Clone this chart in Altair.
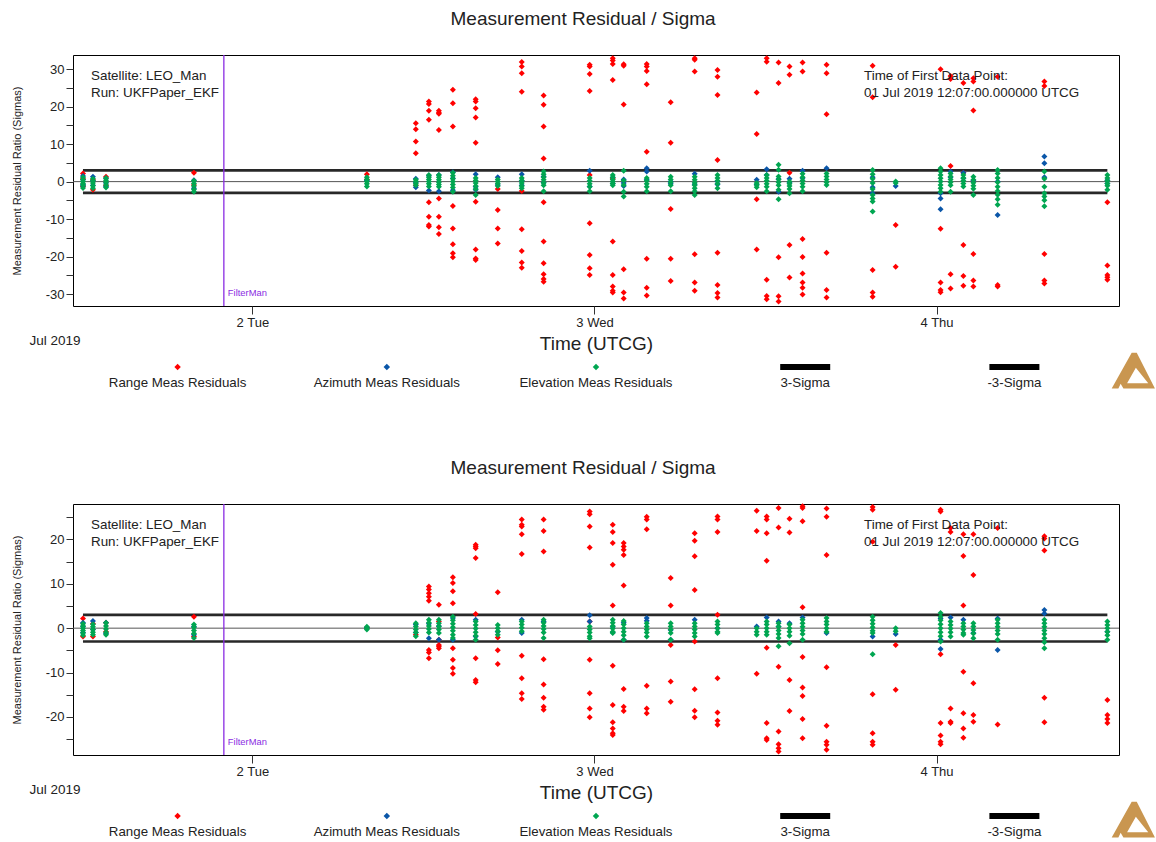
import altair as alt
import pandas as pd

FONT = "Liberation Sans"
TEXT_COLOR = "#222222"
TITLE = "Measurement Residual / Sigma"

SERIES = ["Range Meas Residuals", "Azimuth Meas Residuals", "Elevation Meas Residuals"]
SERIES_COLORS = ["#ff0000", "#0a56a8", "#00a651"]
LEGEND_ENTRIES = SERIES + ["3-Sigma", "-3-Sigma"]

# Start time of each tracking pass (UTC)
PASS_TIMES = [
    "2019-07-01T12:07", "2019-07-01T12:49", "2019-07-01T13:44", "2019-07-01T19:54",
    "2019-07-02T08:02", "2019-07-02T11:28", "2019-07-02T12:23", "2019-07-02T13:05",
    "2019-07-02T14:04", "2019-07-02T15:40", "2019-07-02T17:13", "2019-07-02T18:54",
    "2019-07-02T20:26", "2019-07-02T23:40", "2019-07-03T01:17", "2019-07-03T02:03",
    "2019-07-03T03:40", "2019-07-03T05:21", "2019-07-03T07:02", "2019-07-03T08:38",
    "2019-07-03T11:23", "2019-07-03T12:05", "2019-07-03T12:55", "2019-07-03T13:41",
    "2019-07-03T14:36", "2019-07-03T16:17", "2019-07-03T19:31", "2019-07-03T21:08",
    "2019-07-04T00:17", "2019-07-04T00:59", "2019-07-04T01:53", "2019-07-04T02:35",
    "2019-07-04T04:17", "2019-07-04T07:34", "2019-07-04T11:59",
]

# ---- upper run: residual / sigma per pass ----
TOP_RANGE = [
    [2.2, -1.3, 0.8], [-2.2, 0.5], [1.3, -1.0], [2.4, -0.9], [2.0, 0.6],
    [15.6, 14.0, 10.7, 7.6, -1.0],
    [21.4, 20.7, 18.9, 16.5, -5.5, -9.4, -11.6, -12.0],
    [18.9, 18.4, 18.1, 13.8, -4.5, -9.4, -12.2, -14.0],
    [24.5, 20.9, 14.7, -6.5, -12.5, -16.7, -19.1, -20.2],
    [22.0, 21.4, 19.6, 17.1, 10.4, -5.4, -18.1, -20.5, -20.9],
    [-2.0, -7.6, -12.5, -16.5],
    [31.9, 30.7, 28.9, 24.0, -2.5, -12.7, -18.5, -21.6, -23.0],
    [23.0, 20.5, 14.7, 6.2, -5.5, -16.0, -21.8, -24.7, -26.0, -26.7],
    [31.2, 30.7, 28.7, 24.2, 1.8, -11.1, -19.6, -23.1, -24.9],
    [32.9, 32.3, 31.4, 27.1, 0.8, -16.0, -24.9, -28.0, -29.1, -29.6],
    [31.3, 30.9, 20.6, -23.4, -29.6, -31.2],
    [31.4, 30.7, 29.5, 26.0, 8.0, -20.6, -28.3, -30.4],
    [21.2, 10.4, -7.3, -20.6, -26.5],
    [32.9, 32.5, 29.4, -19.4, -26.9, -29.1],
    [29.8, 28.0, 23.1, 5.8, -19.0, -27.6, -29.7, -30.9],
    [23.8, 12.7, -4.7, -18.1],
    [32.9, 32.0, -26.2, -30.5, -31.4],
    [31.8, 26.3, -20.2, -30.6, -32.0],
    [30.7, 28.5, 2.4, -16.9, -25.6],
    [31.8, 29.4, -15.3, -20.1, -24.5, -26.9, -28.3, -30.1],
    [31.2, 28.9, 18.0, -19.0, -28.9, -30.9],
    [30.9, 22.5, -23.6, -29.6, -30.7],
    [-11.6, -22.7],
    [30.0, -12.6, -26.9, -28.9, -29.5],
    [28.2, 27.4, 4.2, -24.7, -28.5],
    [26.3, 2.4, -16.9, -25.2, -27.8],
    [27.6, 26.7, 19.0, -19.3, -26.4, -28.0],
    [28.0, -27.6, -28.0],
    [26.7, 25.5, -19.3, -26.4, -27.2],
    [-5.5, -22.4, -24.9, -25.5, -26.2],
]
TOP_AZIMUTH = [
    [1.5, 0.5, -0.8, -1.2], [1.3, 0.2, -1.0], [0.9, -0.4, -1.3], [0.4, -1.8], [0.3],
    [0.8, -0.2, -1.5], [1.6, -2.4], [1.8, -2.6], [2.5, 0.9, -2.3], [2.0, -1.4, -2.2],
    [1.2, -0.9], [2.0, 0.2, -1.0], [1.4, -0.3], [2.9, -1.3], [1.1, -0.5],
    [0.6, -0.4, -1.2], [3.6, 2.7, 0.5], [0.0, -0.6], [2.1, -0.7], [0.0, -0.8],
    [0.5, -0.8], [3.3, 1.8], [0.7, -2.7], [0.8, -0.3], [2.9, 1.0],
    [3.6], [1.2, -1.5, -3.1], [-1.2], [-3.1, -4.5, -7.4], [2.7, 1.2],
    [2.4, 0.9], [0.3], [0.0, -8.9], [6.7, 4.9, 1.2], [-0.5, 0.4],
]
TOP_ELEVATION = [
    [1.2, 0.6, 0.0, -0.5, -1.0, -1.7], [0.8, 0.2, -0.4, -1.1, -1.8],
    [1.0, 0.4, -0.2, -0.9, -1.6], [0.2, -0.5, -1.2, -2.1, -2.7],
    [1.2, 0.6, 0.0, -0.6, -1.3], [0.5, 0.0, -0.5, -1.0],
    [1.8, 1.2, 0.6, 0.0, -0.6, -1.3], [1.8, 1.2, 0.5, -0.2, -0.8, -1.4],
    [2.4, 1.6, 0.8, 0.0, -0.8, -1.6, -2.7], [1.0, 0.3, -0.4, -1.2, -2.0, -3.6],
    [0.6, 0.0, -0.5, -1.2], [1.0, 0.3, -0.4, -1.2, -1.8],
    [2.7, 2.0, 1.2, 0.5, -0.3, -1.0, -2.6], [1.0, 0.2, -0.6, -1.4, -2.6],
    [1.8, 1.2, 0.6, 0.0, -0.5, -1.0], [2.9, 0.3, -0.9, -2.7, -4.0],
    [1.0, 0.2, -0.6, -1.4, -2.6], [1.3, 0.6, -0.2, -1.0, -2.6],
    [1.3, 0.5, -0.3, -1.0, -1.8, -2.6, -3.6], [1.8, 1.0, 0.2, -0.6, -1.8],
    [-0.4, -0.9, -1.5], [1.8, 1.0, 0.2, -0.6, -1.4, -2.6],
    [4.5, 3.2, 1.4, 0.6, -0.2, -1.0, -2.2, -4.7], [0.0, -0.6, -1.2, -2.0, -3.1],
    [2.1, 1.2, 0.3, -0.5, -1.4, -2.6], [2.2, 1.4, 0.6, -0.2, -0.9],
    [3.1, 2.0, 0.8, -0.4, -2.0, -3.6, -4.5, -5.3, -8.0], [0.0, -0.4],
    [3.6, 2.7, 1.8, 0.9, 0.0, -0.9, -1.8, -2.7], [2.2, 1.4, 0.6, -0.2, -1.0, -2.7],
    [1.8, 1.0, 0.2, -0.5, -1.3], [1.3, 0.5, -0.3, -1.1, -1.9, -3.6],
    [3.1, 2.2, 1.0, -0.2, -1.4, -2.5, -3.5, -4.7, -6.2],
    [2.7, 0.8, -1.4, -3.1, -4.0, -5.0, -6.6], [1.8, 1.0, 0.2, -0.5, -1.1, -2.2],
]

# ---- lower run: residual / sigma per pass ----
BOTTOM_RANGE = [
    [2.2, -1.9], [-1.9, 1.0], [1.2, -0.8], [2.6, -1.9], [0.1], [-1.5],
    [9.4, 8.7, 7.9, 7.1, 6.2, -4.9, -5.5, -6.8],
    [5.3, 1.5, -2.6, -3.8, -4.1, -4.5],
    [11.5, 10.2, 8.3, 5.6, -4.5, -7.1, -9.0, -10.3],
    [18.8, 18.4, 18.0, 15.8, 3.2, -6.8, -11.7, -12.2],
    [8.1, -2.1, -5.0, -8.1],
    [24.5, 23.3, 22.9, 21.2, 16.7, -6.2, -11.3, -14.7, -16.0],
    [24.5, 21.9, 17.3, -7.0, -12.7, -15.7, -17.7, -18.4],
    [26.3, 25.7, 22.9, 18.2, 1.5, -7.1, -14.7, -18.1, -20.1],
    [23.3, 21.7, 19.2, 14.3, 5.1, -8.5, -17.3, -21.2, -22.6, -23.7, -24.1],
    [19.2, 18.4, 17.7, 16.5, 9.6, -13.7, -17.7, -18.7],
    [25.1, 24.5, 22.3, -13.0, -18.1, -19.2],
    [11.3, 5.1, -3.8, -12.0, -16.6],
    [21.4, 19.7, 16.2, 8.6, -3.0, -13.8, -18.6, -20.1],
    [25.2, 24.5, 21.7, 3.0, -11.3, -19.0, -20.9, -21.8],
    [26.5, 21.9, -10.3],
    [25.2, 24.5, 21.4, 15.2, -4.4, -21.4, -24.8, -25.2],
    [27.1, 22.7, -8.7, -23.3, -26.2, -27.1, -27.8],
    [24.7, 21.6, -11.7, -18.7],
    [27.5, 27.1, 24.1, 4.7, -6.5, -13.4, -15.3, -20.5, -24.8],
    [27.0, 25.1, 16.5, -8.8, -22.0, -25.6, -26.3, -27.4],
    [27.3, 26.7, 19.5, -14.9, -23.7, -25.6, -26.3],
    [-3.8, -13.9],
    [26.7, 26.3, -5.9, -21.4, -24.2, -25.6, -26.2],
    [22.6, 21.7, -18.1, -21.1, -21.4],
    [21.2, 16.3, 5.1, -9.8, -19.2, -22.6, -24.7],
    [21.2, 12.0, -12.4, -19.6, -21.1],
    [22.6, -21.7],
    [20.7, 20.2, 17.5, -15.7, -21.2],
    [-16.2, -19.6, -20.5, -21.4],
]
BOTTOM_AZIMUTH = [
    [1.2, 0.4, -1.0], [1.6, -0.3], [1.2, -1.2], [0.4, -1.5], [0.1],
    [0.8, -1.0], [1.0, -2.3], [0.5, -2.6], [2.3, -2.6], [1.9, -1.9],
    [-0.8], [1.9, -1.1], [1.5], [2.9, 1.5], [0.3, -1.0],
    [1.2, -2.6], [2.3, 1.7], [-0.4, -2.6], [1.9], [0.0],
    [0.4], [2.4], [1.5, 0.4], [1.1], [2.4],
    [-1.1], [-1.9], [-1.3], [2.2, -2.6, -4.7], [2.4],
    [1.9], [-1.1], [2.2, -4.9], [4.1, 3.3], [-0.8],
]
BOTTOM_ELEVATION = [
    [1.0, 0.5, 0.0, -0.5, -1.1, -1.6], [0.9, 0.3, -0.3, -0.9, -1.5],
    [1.2, 0.5, -0.2, -0.9, -1.5], [0.8, 0.2, -0.5, -1.2, -2.2],
    [0.3, 0.0, -0.3], [1.1, 0.4, -0.3, -1.0, -1.8],
    [1.9, 1.2, 0.5, -0.2, -1.0], [1.9, 1.1, 0.4, -0.3, -1.1],
    [2.6, 1.8, 1.0, 0.2, -0.6, -1.5, -2.2], [1.5, 0.7, -0.1, -0.9, -1.7, -2.6],
    [0.7, 0.0, -0.7, -1.5], [1.5, 0.8, 0.1, -0.7],
    [1.9, 1.2, 0.5, -0.2, -1.0, -2.2], [0.4, -0.3, -1.0, -1.8, -2.3],
    [1.9, 1.2, 0.5, -0.1, -0.8, -1.1], [1.6, 0.8, 0.0, -0.8, -1.6, -2.6],
    [1.1, 0.4, -0.3, -1.0, -1.9], [1.1, 0.4, -0.3, -1.1, -2.6],
    [1.1, 0.4, -0.3, -1.1, -1.9], [1.5, 0.8, 0.0, -0.8, -1.1],
    [0.0, -0.8, -1.5], [1.5, 0.8, 0.0, -0.8, -1.5],
    [1.1, 0.3, -0.5, -1.3, -2.2, -4.1], [0.8, 0.0, -0.8, -1.7, -3.4],
    [1.9, 1.1, 0.3, -0.5, -1.3, -2.6], [2.3, 1.5, 0.8, 0.0, -0.8],
    [2.6, 1.8, 1.0, 0.2, -0.6, -1.1, -5.9], [0.0, -0.7],
    [3.4, 2.6, 1.8, 0.9, 0.0, -0.9, -1.8, -3.0], [1.5, 0.7, -0.1, -0.9, -1.9],
    [1.1, 0.4, -0.3, -1.1, -1.5], [1.1, 0.4, -0.4, -1.2, -2.3],
    [1.9, 1.1, 0.3, -0.5, -1.3, -2.6], [1.9, 1.1, 0.3, -0.5, -1.3, -2.3, -3.2, -4.5],
    [1.5, 0.7, 0.0, -0.8, -1.6, -2.6],
]

TOP_Y_DOMAIN = [-33.2, 33.8]
TOP_Y_TICKS = list(range(-30, 31, 5))
BOTTOM_Y_DOMAIN = [-28.6, 28.0]
BOTTOM_Y_TICKS = list(range(-25, 26, 5))

SIGMA_LEVELS = [3, -3]
FIRST_POINT = "2019-07-01T12:07"
LAST_POINT = "2019-07-04T11:59"
FILTER_MAN_TIME = "2019-07-01T22:00"
INFO_LEFT = ["Satellite: LEO_Man", "Run: UKFPaper_EKF"]
INFO_RIGHT = ["Time of First Data Point:", "01 Jul 2019 12:07:00.000000 UTCG"]

W, H = 1046, 251

# Vega symbol paths in the unit square [-1, 1]
BAR_PATH = "M-1,-0.12L1,-0.12L1,0.12L-1,0.12Z"
LOGO_PATH = ("M-0.97,0.8L-0.1,-0.75L0.12,-0.75L0.91,0.8L-0.46,0.8L-0.58,0.6L-0.68,0.8Z"
             "M0.08,-0.1L-0.3,0.58L0.62,0.58Z")


def utc(ts):
    return ts + ":00Z"


def residual_table(range_vals, az_vals, el_vals):
    rows = []
    for name, passes in zip(SERIES, (range_vals, az_vals, el_vals)):
        for t, vals in zip(PASS_TIMES, passes):
            for v in vals:
                rows.append({"time": utc(t), "value": v, "series": name})
    return pd.DataFrame(rows)


X_TITLE = "Time (UTCG)"
Y_TITLE = "Measurement Residual Ratio (Sigmas)"


def panel(range_vals, az_vals, el_vals, y_domain, y_ticks):
    x_scale = alt.Scale(
        type="utc", nice=False,
        domain=[alt.DateTime(year=2019, month=7, date=1, hours=11, minutes=25, utc=True),
                alt.DateTime(year=2019, month=7, date=4, hours=12, minutes=48, utc=True)],
    )
    y_scale = alt.Scale(domain=y_domain, nice=False, zero=False)
    x_axis = alt.Axis(
        values=[alt.DateTime(year=2019, month=7, date=d, utc=True) for d in (2, 3, 4)],
        format="%-d %a", grid=False, domain=False,
        tickSize=8, tickColor="#333333", labelPadding=2,
        labelFont=FONT, labelFontSize=13, labelColor=TEXT_COLOR,
        titleFont=FONT, titleFontSize=19, titleFontWeight="normal", titleColor=TEXT_COLOR,
        titlePadding=5,
    )
    # every 5 sigmas gets a tick, every 10 a label
    y_axis = alt.Axis(
        values=y_ticks, tickCount=40,
        labelExpr="datum.value % 10 == 0 ? '' + datum.value : ''",
        labelOverlap=False,
        grid=False, domain=False, tickSize=7, tickColor="#333333", labelPadding=2,
        labelFont=FONT, labelFontSize=13, labelColor=TEXT_COLOR,
        titleFont=FONT, titleFontSize=11, titleFontWeight="normal", titleColor=TEXT_COLOR,
        titlePadding=23,
    )

    points = alt.Chart(residual_table(range_vals, az_vals, el_vals)).mark_point(
        shape="diamond", filled=True, size=36, opacity=1
    ).encode(
        x=alt.X("time:T", scale=x_scale, axis=x_axis, title=X_TITLE),
        y=alt.Y("value:Q", scale=y_scale, axis=y_axis, title=Y_TITLE),
        color=alt.Color("series:N", scale=alt.Scale(domain=SERIES, range=SERIES_COLORS), legend=None),
    )

    zero_line = alt.Chart(pd.DataFrame({"level": [0]})).mark_rule(
        color="#555555", strokeWidth=1
    ).encode(y=alt.Y("level:Q", title=Y_TITLE))

    sigma_df = pd.DataFrame({
        "start": [utc(FIRST_POINT)] * len(SIGMA_LEVELS),
        "end": [utc(LAST_POINT)] * len(SIGMA_LEVELS),
        "level": SIGMA_LEVELS,
    })
    sigma_lines = alt.Chart(sigma_df).mark_rule(
        color="#111111", strokeWidth=2.6, opacity=0.9
    ).encode(
        x=alt.X("start:T", title=X_TITLE), x2="end:T",
        y=alt.Y("level:Q", title=Y_TITLE),
    )

    man_df = pd.DataFrame({"time": [utc(FILTER_MAN_TIME)], "label": ["FilterMan"]})
    man_line = alt.Chart(man_df).mark_rule(color="#8a2be2", strokeWidth=1.3).encode(
        x=alt.X("time:T", title=X_TITLE)
    )
    man_text = alt.Chart(man_df).mark_text(
        align="left", baseline="middle", dx=4, font=FONT, fontSize=9.4, color="#8a2be2"
    ).encode(x=alt.X("time:T", title=X_TITLE), y=alt.value(H - 13), text="label:N")

    def info(lines, x):
        return [
            alt.Chart(pd.DataFrame({"t": [s]})).mark_text(
                align="left", baseline="middle", font=FONT, fontSize=13.4, color=TEXT_COLOR
            ).encode(x=alt.value(x), y=alt.value(21 + 17 * i), text="t:N")
            for i, s in enumerate(lines)
        ]

    data_layer = alt.layer(
        zero_line, sigma_lines, man_line, man_text, points,
        *info(INFO_LEFT, 18), *info(INFO_RIGHT, 791),
    )

    legend_df = pd.DataFrame({"entry": LEGEND_ENTRIES})
    lx = alt.X("entry:N", scale=alt.Scale(type="point", domain=LEGEND_ENTRIES, padding=0.5), axis=None)
    legend_dots = alt.Chart(legend_df.iloc[:3]).mark_point(
        shape="diamond", filled=True, size=42, opacity=1
    ).encode(
        x=lx, y=alt.value(H + 61),
        color=alt.Color("entry:N", scale=alt.Scale(domain=SERIES, range=SERIES_COLORS), legend=None),
    )
    legend_bars = alt.Chart(legend_df.iloc[3:]).mark_point(
        shape=BAR_PATH, filled=True, size=2500, color="#000000", opacity=1
    ).encode(x=lx, y=alt.value(H + 61))
    legend_text = alt.Chart(legend_df).mark_text(
        baseline="middle", font=FONT, fontSize=13.3, color=TEXT_COLOR
    ).encode(x=lx, y=alt.value(H + 77), text="entry:N")
    month_text = alt.Chart(pd.DataFrame({"t": ["Jul 2019"]})).mark_text(
        baseline="middle", font=FONT, fontSize=13.5, color=TEXT_COLOR
    ).encode(x=alt.value(-18), y=alt.value(H + 35), text="t:N")
    logo = alt.Chart(pd.DataFrame({"k": [0]})).mark_point(
        shape=LOGO_PATH, filled=True, size=2116, color="#c99650", opacity=1
    ).encode(x=alt.value(W + 15), y=alt.value(H + 64))

    legend_layer = alt.layer(legend_dots, legend_bars, legend_text, month_text, logo)

    return alt.layer(data_layer, legend_layer).resolve_scale(x="independent").properties(
        width=W, height=H,
        title=alt.TitleParams(
            TITLE, font=FONT, fontSize=19, fontWeight="normal", color=TEXT_COLOR,
            anchor="middle", frame="bounds", baseline="bottom", offset=6,
        ),
    )


top = panel(TOP_RANGE, TOP_AZIMUTH, TOP_ELEVATION, TOP_Y_DOMAIN, TOP_Y_TICKS)
bottom = panel(BOTTOM_RANGE, BOTTOM_AZIMUTH, BOTTOM_ELEVATION, BOTTOM_Y_DOMAIN, BOTTOM_Y_TICKS)

chart = (
    alt.vconcat(top, bottom, spacing=68)
    .properties(
        padding={"left": 10, "top": 9, "right": 0, "bottom": 0},
        background="#ffffff",
    )
    .configure(font=FONT)
    .configure_view(stroke="#000000", strokeWidth=1)
)

chart.save("out.html", embed_options={"renderer": "svg", "actions": False})
